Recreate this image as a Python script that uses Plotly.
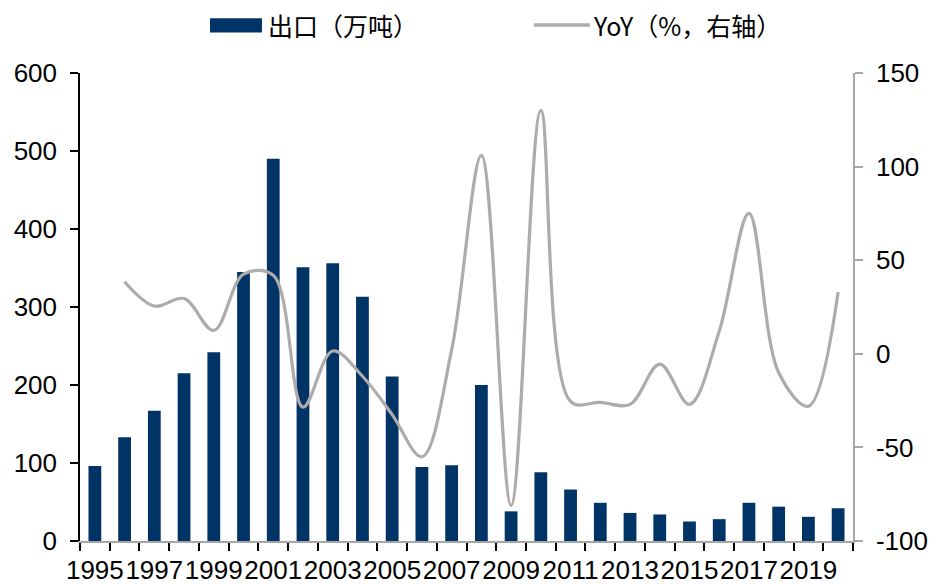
import plotly.graph_objects as go

# Annual exports (10k tonnes) and year-on-year change (%)
years = list(range(1995, 2021))
exports = [96, 133, 167, 215, 242, 345, 490, 351, 356, 313, 211, 95, 97,
           200, 38, 88, 66, 49, 36, 34, 25, 28, 49, 44, 31, 42]
yoy_years = list(range(1996, 2021))
yoy = [38.5, 25.5, 29.5, 12.5, 42.5, 42.0, -28.5, 1.5, -12.0, -32.5, -55.0,
       2.0, 106.0, -81.0, 130.0, -25.5, -26.0, -27.0, -5.5, -27.0, 12.0,
       75.0, -10.0, -28.0, 33.0]
tick_years = list(range(1995, 2020, 2))
tick_labels = [str(y) for y in tick_years]
yoy_ticks = [-100, -50, 0, 50, 100, 150]
yoy_tick_labels = ["-100", "-50", "0", "50", "100", "150"]

bar_color = "#003366"
line_color = "#AFABAB"
axis_gray = "#A6A6A6"
num_font = dict(family="Liberation Sans, Arial, sans-serif", size=26, color="#000000")
cjk_font = dict(family="Noto Sans CJK SC, sans-serif", size=25, color="#000000")

fig = go.Figure()
fig.add_trace(go.Bar(
    x=years, y=exports, name="出口（万吨）",
    marker=dict(color=bar_color, line=dict(width=0)),
    yaxis="y", showlegend=False,
))
fig.add_trace(go.Scatter(
    x=yoy_years, y=yoy, name="YoY（%，右轴）", mode="lines",
    line=dict(color=line_color, width=3.2, shape="spline", smoothing=1.0),
    yaxis="y2", showlegend=False,
))

# Legend drawn in paper coordinates above the plot area
legend_y = 1.1026
fig.add_shape(type="rect", xref="paper", yref="paper",
              x0=0.1682, x1=0.2354, y0=1.0868, y1=1.1169,
              fillcolor=bar_color, line=dict(width=0))
fig.add_annotation(xref="paper", yref="paper", x=0.2405, y=legend_y,
                   xanchor="left", yanchor="middle", showarrow=False,
                   text="出口（万吨）", font=cjk_font)
fig.add_shape(type="line", xref="paper", yref="paper",
              x0=0.5873, x1=0.6598, y0=legend_y, y1=legend_y,
              line=dict(color=line_color, width=3.5))
fig.add_annotation(xref="paper", yref="paper", x=0.6610, y=legend_y,
                   xanchor="left", yanchor="middle", showarrow=False,
                   text="YoY（%，右轴）", font=cjk_font)

fig.update_layout(
    width=930, height=584,
    margin=dict(l=80, r=77, t=73, b=43),
    paper_bgcolor="white", plot_bgcolor="white",
    bargap=0.57,
    xaxis=dict(
        range=[1994.5, 2020.5], automargin=False,
        tickmode="array", tickvals=tick_years, ticktext=tick_labels,
        tickangle=0, ticks="", tickfont=num_font, ticklabelstandoff=5,
        showline=True, linecolor=axis_gray, linewidth=1.5,
        showgrid=False, zeroline=False,
        minor=dict(ticks="outside", tick0=1994.5, dtick=1, ticklen=8,
                   tickcolor="#000000", tickwidth=1.5, showgrid=False),
    ),
    yaxis=dict(
        range=[0, 600], dtick=100, tickfont=num_font, automargin=False,
        ticks="outside", ticklen=8, tickcolor="#000000", tickwidth=1.5,
        ticklabelstandoff=8,
        showline=True, linecolor="#000000", linewidth=1.5,
        showgrid=False, zeroline=False,
    ),
    yaxis2=dict(
        range=[-100, 150], tickmode="array", tickvals=yoy_ticks,
        ticktext=yoy_tick_labels, tickfont=num_font, automargin=False,
        overlaying="y", side="right",
        ticks="outside", ticklen=8, tickcolor=axis_gray, tickwidth=1.5,
        ticklabelstandoff=8,
        showline=True, linecolor=axis_gray, linewidth=1.5,
        showgrid=False, zeroline=False,
    ),
)

fig.write_html("out.html")
